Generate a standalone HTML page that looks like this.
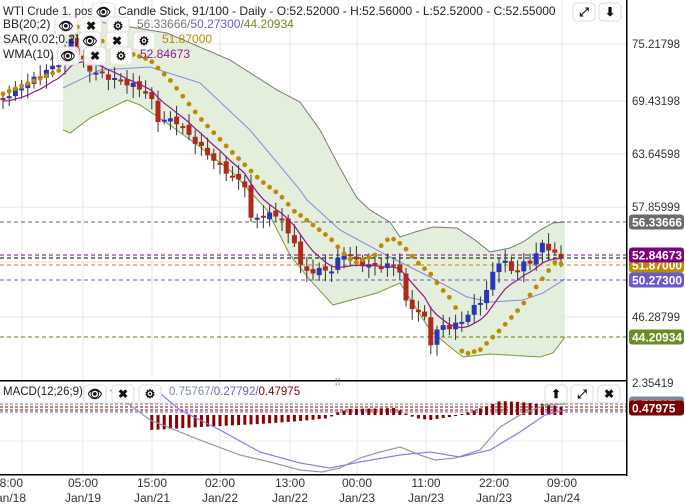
<!DOCTYPE html>
<html><head><meta charset="utf-8"><style>
body{margin:0;background:#fff;width:685px;height:504px;overflow:hidden;font-family:"Liberation Sans",sans-serif}
svg{display:block}
text{font-family:"Liberation Sans",sans-serif}
</style></head><body>
<svg id="s" width="685" height="504" viewBox="0 0 685 504"></svg>
<script>
const S=document.getElementById('s');let h='';
const W=626;
function interp(pts,x){for(let i=0;i<pts.length-1;i++){if(x>=pts[i][0]&&x<=pts[i+1][0]){const t=(x-pts[i][0])/(pts[i+1][0]-pts[i][0]);return pts[i][1]+t*(pts[i+1][1]-pts[i][1]);}}return x<pts[0][0]?pts[0][1]:pts[pts.length-1][1];}
function path(pts,x0,x1){let d='';for(let x=x0;x<=x1;x+=1){d+=(d?'L':'M')+x+' '+interp(pts,x).toFixed(1);}return d;}
const gx=[22,83,152,220,290,357,426,494,562];
gx.forEach(x=>{h+=`<line x1="${x}" y1="0" x2="${x}" y2="475" stroke="#e6e6e6"/>`});
[44,101,154,207,262,317].forEach(y=>{h+=`<line x1="0" y1="${y}" x2="${W}" y2="${y}" stroke="#e6e6e6"/>`});
[402,441].forEach(y=>{h+=`<line x1="0" y1="${y}" x2="${W}" y2="${y}" stroke="#eee"/>`});
// BB
const up=[[63,32],[100,22],[167,33],[230,60],[277,90],[300,102],[320,130],[340,168],[357,198],[370,210],[390,222],[400,237],[415,232],[433,227],[457,228],[475,240],[490,252],[510,248],[523,242],[540,230],[553,223],[565,222]];
const mid=[[63,88],[100,70],[150,67],[200,83],[250,130],[300,190],[307,200],[340,230],[390,257],[430,277],[467,297],[490,302],[523,300],[543,293],[565,279]];
const lo=[[63,130],[70,133],[90,118],[127,100],[140,105],[167,123],[200,147],[233,173],[267,210],[290,255],[310,280],[333,305],[377,293],[400,283],[430,330],[450,347],[463,357],[490,354],[540,357],[553,353],[565,337]];
let pu=path(up,63,565);
let rev='';for(let x=565;x>=63;x-=1)rev+='L'+x+' '+interp(lo,x).toFixed(1);
h+=`<path d="${pu}${rev}Z" fill="#e3eedc"/>`;
h+=`<path d="${pu}" fill="none" stroke="#7a7a7a" stroke-width="1"/>`;
h+=`<path d="${path(lo,63,565)}" fill="none" stroke="#7a9a30" stroke-width="1"/>`;
h+=`<path d="${path(mid,63,565)}" fill="none" stroke="#8888dd" stroke-width="1"/>`;
[[222,'#666'],[255,'#800080'],[258,'#000'],[265,'#c08a00'],[280,'#6a5acd'],[337,'#6b7a10']].forEach(([y,c])=>{h+=`<line x1="0" y1="${y}" x2="${W}" y2="${y}" stroke="${c}" stroke-dasharray="4,3"/>`});
// closes
const cl=[[3,98],[20,88],[40,75],[60,62],[68,48],[72,36],[78,55],[90,70],[107,77],[133,85],[150,95],[157,120],[175,120],[200,147],[230,175],[245,185],[250,220],[265,215],[280,215],[290,240],[295,241],[300,265],[307,272],[320,270],[332,270],[340,257],[345,253],[352,256],[357,262],[370,266],[382,267],[395,264],[402,275],[407,310],[414,306],[420,315],[427,320],[432,350],[440,320],[446,330],[452,325],[458,325],[464,318],[470,312],[477,304],[483,298],[489,286],[496,262],[502,260],[508,265],[514,275],[520,265],[527,263],[533,261],[539,246],[545,244],[552,252],[558,256],[565,258]];
let prev=interp(cl,0);const cs=[];
for(let i=0;i<91;i++){const x=3+i*6.2;let c=interp(cl,x)+Math.sin(i*2.3)*2.5;if(i==90)c=258;const o=prev+Math.sin(i*3.1)*2;cs.push(c);
const top=Math.min(o,c),bot=Math.max(o,c);const hi=top-3-Math.abs(Math.sin(i*1.3))*8,lw=bot+3+Math.abs(Math.cos(i*0.9))*8;
const col=c<o?'#2a35b8':'#b02a1a';
h+=`<line x1="${x}" y1="${hi}" x2="${x}" y2="${lw}" stroke="#333" stroke-width="1"/>`;
h+=`<rect x="${x-2.5}" y="${top}" width="5" height="${Math.max(bot-top,2)}" fill="${col}"/>`;prev=c;}
let wd='';for(let i=0;i<91;i++){let s=0,ws=0;for(let k=0;k<10;k++){const j=Math.max(0,i-k);s+=cs[j]*(10-k);ws+=10-k;}wd+=(i?'L':'M')+(3+i*6.2)+' '+(s/ws+3).toFixed(1);}
h+=`<path d="${wd}" fill="none" stroke="#8e1a8e" stroke-width="1.2"/>`;
const sar=[[0,95],[60,70],[68,42],[75,28],[90,20],[100,40],[120,50],[150,60],[170,80],[200,118],[230,150],[260,180],[280,195],[295,212],[300,215],[330,238],[345,255],[355,263],[375,255],[385,240],[395,239],[405,248],[420,265],[430,273],[440,287],[450,298],[460,315],[462,355],[480,350],[500,330],[520,308],[540,282],[555,262],[565,265]];
for(let i=0;i<91;i++){const x=3+i*6.2;const y=interp(sar,x);h+=`<circle cx="${x}" cy="${y}" r="2.4" fill="#c08a00"/>`;}
h+=`<rect x="0" y="380" width="${W}" height="1.5" fill="#000"/>`;
h+=`<rect x="0" y="474" width="${W+1}" height="1.5" fill="#000"/>`;
h+=`<rect x="${W}" y="0" width="1.5" height="476" fill="#000"/>`;
h+=`<text x="334" y="386" font-size="10" fill="#999">⠿</text>`;
// MACD
[[404,'#777'],[407,'#8b0000'],[410,'#8b0000'],[412,'#6a5acd']].forEach(([y,c])=>{h+=`<line x1="0" y1="${y}" x2="${W}" y2="${y}" stroke="${c}" stroke-dasharray="3,2"/>`});
const hist=[[150,-15],[170,-14],[200,-12],[260,-9],[300,-6],[330,-3],[335,2],[350,6],[395,7],[405,2],[415,-3],[430,-5],[450,-2],[470,3],[490,10],[500,14],[520,13],[550,10],[565,8]];
for(let i=24;i<91;i++){const x=3+i*6.2;const v=interp(hist,x);
 const y0=415;h+=`<rect x="${x-1.5}" y="${Math.min(y0,y0-v)}" width="3" height="${Math.max(Math.abs(v),1)}" fill="#8b0000"/>`;}
const m1=[[110,390],[150,420],[200,440],[240,455],[270,462],[300,470],[322,472],[340,468],[360,458],[380,452],[400,447],[420,455],[435,460],[455,458],[480,450],[500,427],[520,415],[545,405],[565,404]];
const m2=[[150,385],[180,410],[220,430],[260,452],[300,463],[330,468],[360,462],[400,455],[430,452],[460,457],[490,450],[520,432],[545,415],[565,410]];
h+=`<path d="${path(m1,110,565)}" fill="none" stroke="#8a9aa4" stroke-width="1.2"/>`;
h+=`<path d="${path(m2,150,565)}" fill="none" stroke="#8877ee" stroke-width="1.2"/>`;
[[44,'75.21798'],[101,'69.43198'],[154,'63.64598'],[207,'57.85999'],[317,'46.28799'],[383,'2.35419']].forEach(([y,t])=>{h+=`<text x="632" y="${y+4}" font-size="11.5" fill="#333">${t}</text>`});
function tag(y,t,c){h+=`<rect x="629" y="${y-7.5}" width="55" height="15" rx="3" fill="${c}"/><text x="632" y="${y+4.5}" font-size="12" font-weight="bold" fill="#fff">${t}</text>`}
tag(222,'56.33666','#6b6b6b');tag(265,'51.87000','#c08a00');tag(255,'52.84673','#800080');tag(280,'50.27300','#6a5acd');tag(337,'44.20934','#6b8e23');tag(404,'0.75767','#7a8a9a');tag(408,'0.47975','#7a0000');
const lb=[['18:00','Jan/18'],['05:00','Jan/19'],['15:00','Jan/21'],['02:00','Jan/22'],['13:00','Jan/22'],['00:00','Jan/23'],['11:00','Jan/23'],['22:00','Jan/23'],['09:00','Jan/24']];
const lx=[8,83,152,220,290,357,426,494,562];
lb.forEach((l,i)=>{h+=`<text x="${lx[i]}" y="487" font-size="12" fill="#333" text-anchor="middle">${l[0]}</text><text x="${lx[i]}" y="502" font-size="12" fill="#333" text-anchor="middle">${l[1]}</text>`});
function btn(x,y,g,w){h+=`<rect x="${x}" y="${y}" width="${w||22}" height="18" rx="4" fill="#fff" fill-opacity="0.9" stroke="#ddd"/><text x="${x+(w||22)/2}" y="${y+13}" font-size="12" font-weight="bold" text-anchor="middle" fill="#111">${g}</text>`}
h+=`<text x="3" y="15" font-size="11.5" fill="#222">WTI Crude 1. pos</text>`;btn(92,3,'👁',23);
h+=`<text x="118" y="15" font-size="12" fill="#222">Candle Stick, 91/100 - Daily - O:52.52000 - H:52.56000 - L:52.52000 - C:52.55000</text>`;
h+=`<text x="3" y="28" font-size="12" fill="#222">BB(20;2)</text>`;btn(55,17,'👁');btn(80,17,'✖');btn(107,17,'⚙');
h+=`<text x="137" y="28" font-size="12" fill="#777">56.33666/<tspan fill="#6a5acd">50.27300/</tspan><tspan fill="#6b8e23">44.20934</tspan></text>`;
h+=`<text x="3" y="43" font-size="12" fill="#222">SAR(0.02;0.2)</text>`;btn(79,32,'👁');btn(106,32,'✖');btn(133,32,'⚙');
h+=`<text x="162" y="43" font-size="12" fill="#c08a00">51.87000</text>`;
h+=`<text x="3" y="58" font-size="12" fill="#222">WMA(10)</text>`;btn(57,47,'👁');btn(84,47,'✖');btn(110,47,'⚙');
h+=`<text x="140" y="58" font-size="12" fill="#8e1a8e">52.84673</text>`;
btn(573,3,'⤢');btn(599,3,'⬇');
h+=`<text x="3" y="395" font-size="11.5" fill="#222">MACD(12;26;9)</text>`;btn(84,385,'👁');btn(112,385,'✖');btn(139,385,'⚙');
h+=`<text x="169" y="395" font-size="11.5" fill="#7a8a9a">0.75767/<tspan fill="#6a5acd">0.27792/</tspan><tspan fill="#8b0000">0.47975</tspan></text>`;
btn(545,385,'⬆');btn(571,385,'⤢');btn(598,385,'✖');
S.innerHTML=h;
</script>
</body></html>
